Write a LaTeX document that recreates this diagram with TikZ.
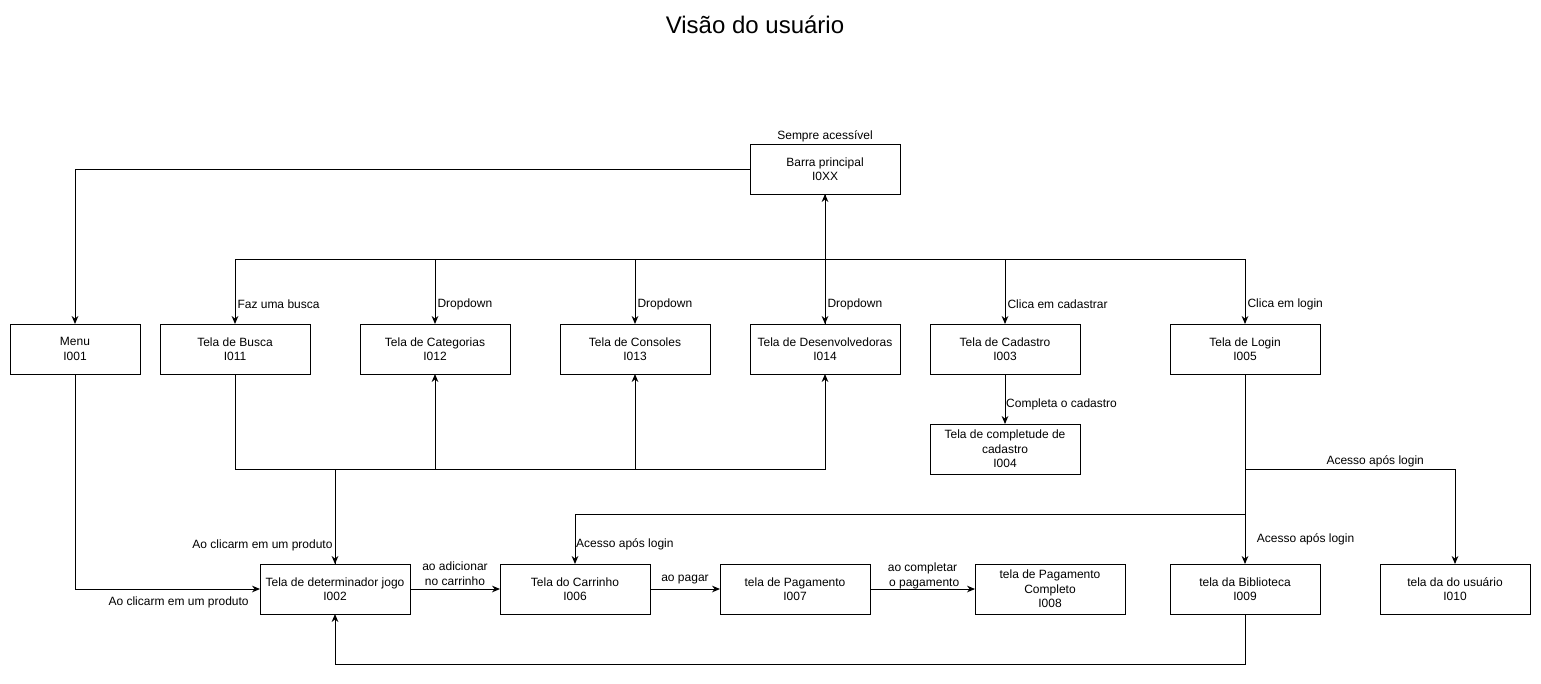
\documentclass[tikz,border=0pt]{standalone}
\usepackage{fontspec}
\setmainfont{Liberation Sans}
\usetikzlibrary{arrows.meta,positioning}

\begin{document}
\begin{tikzpicture}[x=0.75pt, y=-0.75pt, >={Stealth[length=6pt,width=5pt]},
  tela/.style={rectangle, draw=black, line width=0.75pt, minimum width=112.5pt, minimum height=37.5pt, inner sep=2pt, outer sep=0pt, align=center, font=\fontsize{9}{10.8}\selectfont},
  rot/.style={font=\fontsize{9}{10.8}\selectfont, inner sep=1.5pt, align=center},
  pil/.style={->, line width=0.75pt}]
	\useasboundingbox (0,0) rectangle (1541,683);
	\node[font=\fontsize{18}{21.6}\selectfont] (titulo) at (755,25) {Visão do usuário};
	% linha de cima
	\node[tela, minimum width=97.5pt] (menu) at (75,349) {Menu\\I001};
	\node[tela, right=15pt of menu] (busca) {Tela de Busca\\I011};
	\node[tela, right=37.5pt of busca] (categ) {Tela de Categorias\\I012};
	\node[tela, right=37.5pt of categ] (consoles) {Tela de Consoles\\I013};
	\node[tela, right=30pt of consoles] (desenv) {Tela de Desenvolvedoras\\I014};
	\node[tela, right=22.5pt of desenv] (cadastro) {Tela de Cadastro\\I003};
	\node[tela, right=67.5pt of cadastro] (login) {Tela de Login\\I005};
	\node[tela, above=97.5pt of desenv] (barra) {Barra principal\\I0XX};
	\node[rot, above=0pt of barra] (sempre) {Sempre acessível};
	\node[tela, below=37.5pt of cadastro] (completude) {Tela de completude de\\cadastro\\I004};
	% linha de baixo
	\node[tela] (jogo) at (335,589) {Tela de determinador jogo\\I002};
	\node[tela, right=67.5pt of jogo] (carrinho) {Tela do Carrinho\\I006};
	\node[tela, right=52.5pt of carrinho] (pagamento) {tela de Pagamento\\I007};
	\node[tela, right=78.75pt of pagamento] (completo) {tela de Pagamento\\Completo\\I008};
	\node[tela, right=33.75pt of completo] (biblio) {tela da Biblioteca\\I009};
	\node[tela, right=45pt of biblio] (usuario) {tela da do usuário\\I010};

	\draw[pil] (barra.west) -| (menu.north);
	\draw[pil] (barra.south) -- ++(0,65) -| (busca.north) node[rot, pos=0.85, right] {Faz uma busca};
	\draw[pil] (barra.south) -- ++(0,65) -| (categ.north) node[rot, pos=0.85, right] {Dropdown};
	\draw[pil] (barra.south) -- ++(0,65) -| (consoles.north) node[rot, pos=0.85, right] {Dropdown};
	\draw[pil] (barra.south) -- (desenv.north) node[rot, pos=0.85, right] {Dropdown};
	\draw[pil] (desenv.north) -- (barra.south);
	\draw[pil] (barra.south) -- ++(0,65) -| (cadastro.north) node[rot, pos=0.85, right] {Clica em cadastrar};
	\draw[pil] (barra.south) -- ++(0,65) -| (login.north) node[rot, pos=0.85, right] {Clica em login};
	\draw[pil] (cadastro) -- (completude) node[rot, pos=0.6, right, inner sep=0.5pt] {Completa o cadastro};

	\draw[pil] (busca.south) -- ++(0,95) -| (jogo.north) node[rot, pos=0.9, left] {Ao clicarm em um produto};
	\draw[pil] (jogo.north) -- ++(0,-95) -| (categ.south);
	\draw[pil] (jogo.north) -- ++(0,-95) -| (consoles.south);
	\draw[pil] (jogo.north) -- ++(0,-95) -| (desenv.south);
	\draw[pil] (menu.south) |- (jogo.west) node[rot, pos=0.78, below, yshift=-4pt] {Ao clicarm em um produto};

	\draw[pil] (login.south) -- ++(0,95) -| (usuario.north) node[rot, pos=0.31, above] {Acesso após login};
	\draw[pil] (login.south) -- ++(0,140) -| (carrinho.north) node[rot, pos=0.8, right, inner sep=0.5pt] {Acesso após login};
	\draw[pil] (login) -- (biblio) node[rot, pos=0.87, right, xshift=7pt] {Acesso após login};
	\draw[pil] (biblio.south) -- ++(0,50) -| (jogo.south);

	\draw[pil] (jogo) -- (carrinho) node[rot, midway, above, yshift=1pt] {ao adicionar\\no carrinho};
	\draw[pil] (carrinho) -- (pagamento) node[rot, midway, above, yshift=2pt] {ao pagar};
	\draw[pil] (pagamento) -- (completo) node[rot, midway, above, inner sep=0pt] {ao completar\\\ o pagamento};
\end{tikzpicture}
\end{document}
